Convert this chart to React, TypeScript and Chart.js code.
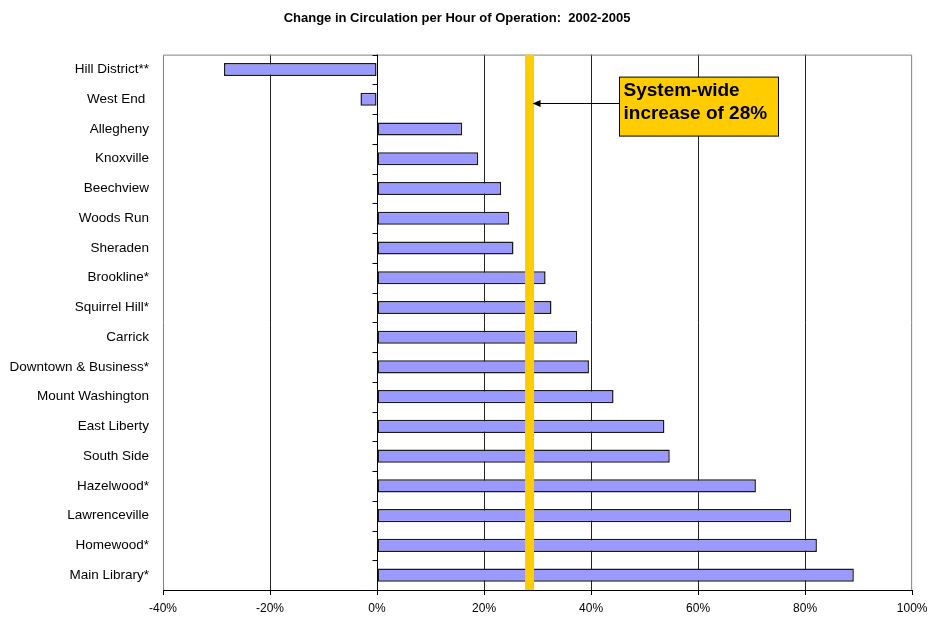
import React, { useEffect, useRef } from "react";
import { Chart, registerables } from "chart.js";

Chart.register(...registerables);

const branches = [
  "Hill District**",
  "West End ",
  "Allegheny",
  "Knoxville",
  "Beechview",
  "Woods Run",
  "Sheraden",
  "Brookline*",
  "Squirrel Hill*",
  "Carrick",
  "Downtown & Business*",
  "Mount Washington",
  "East Liberty",
  "South Side",
  "Hazelwood*",
  "Lawrenceville",
  "Homewood*",
  "Main Library*",
];

const changePct = [
  -28.6, -3.1, 15.9, 18.9, 23.2, 24.7, 25.5, 31.5, 32.6, 37.4, 39.6, 44.2,
  53.7, 54.7, 70.8, 77.4, 82.2, 89.1,
];

const systemWide = 28.5;
const calloutLines = ["System-wide", "increase of 28%"];
const titleText = "Change in Circulation per Hour of Operation:  2002-2005";
const xMin = -40;
const xMax = 100;
const xStep = 20;

const FONT = "Arial, 'Liberation Sans', sans-serif";

const decorPlugin = {
  id: "decor",
  beforeDatasetsDraw(chart: any) {
    const { ctx, chartArea: a, scales } = chart;
    const x = scales.x;
    ctx.save();
    ctx.strokeStyle = "#808080";
    ctx.lineWidth = 1;
    ctx.beginPath();
    ctx.moveTo(a.left + 0.5, a.bottom);
    ctx.lineTo(a.left + 0.5, a.top + 0.5);
    ctx.lineTo(a.right - 0.5, a.top + 0.5);
    ctx.lineTo(a.right - 0.5, a.bottom);
    ctx.stroke();
    const x0 = Math.round(x.getPixelForValue(0)) + 0.5;
    ctx.strokeStyle = "#000";
    ctx.beginPath();
    ctx.moveTo(x0, a.top);
    ctx.lineTo(x0, a.bottom);
    const n = branches.length;
    for (let i = 0; i <= n; i++) {
      const y = Math.round(a.top + ((a.bottom - a.top) * i) / n) + 0.5;
      ctx.moveTo(x0 - 5, y);
      ctx.lineTo(x0, y);
    }
    ctx.stroke();
    ctx.restore();
  },
  afterDatasetsDraw(chart: any) {
    const { ctx, chartArea: a, scales } = chart;
    const x = scales.x;
    ctx.save();
    const xs = x.getPixelForValue(systemWide);
    ctx.fillStyle = "#FFCC00";
    ctx.fillRect(xs - 4.5, a.top, 9, a.bottom - a.top);
    const bx = Math.round(x.getPixelForValue(45.2)) + 0.5;
    const by = a.top + 22.5;
    const bw = 159;
    const bh = 59;
    ctx.fillStyle = "#FFCC00";
    ctx.fillRect(bx, by, bw, bh);
    ctx.strokeStyle = "#000";
    ctx.lineWidth = 1;
    ctx.strokeRect(bx, by, bw, bh);
    ctx.fillStyle = "#000";
    ctx.font = `bold 19px ${FONT}`;
    ctx.textAlign = "left";
    ctx.textBaseline = "middle";
    ctx.fillText(calloutLines[0], bx + 4, by + 14);
    ctx.fillText(calloutLines[1], bx + 4, by + 37);
    const ay = Math.round(by + 25.5) + 0.5;
    const tip = xs + 3;
    ctx.beginPath();
    ctx.moveTo(bx, ay);
    ctx.lineTo(tip + 6, ay);
    ctx.stroke();
    ctx.beginPath();
    ctx.moveTo(tip, ay);
    ctx.lineTo(tip + 8, ay - 3.5);
    ctx.lineTo(tip + 8, ay + 3.5);
    ctx.closePath();
    ctx.fill();
    ctx.restore();
  },
};

export default function App() {
  const ref = useRef<HTMLCanvasElement | null>(null);
  useEffect(() => {
    if (!ref.current) return;
    const chart = new Chart(ref.current, {
      type: "bar",
      data: {
        labels: branches,
        datasets: [
          {
            data: changePct,
            backgroundColor: "#9999FF",
            borderColor: "#1a1a1a",
            borderWidth: 1.5,
            borderSkipped: false,
            categoryPercentage: 1,
            barPercentage: 0.44,
          },
        ],
      },
      plugins: [decorPlugin],
      options: {
        indexAxis: "y",
        animation: false,
        responsive: false,
        maintainAspectRatio: false,
        layout: { padding: { left: 0, right: 16, top: 0, bottom: 0 } },
        plugins: {
          legend: { display: false },
          tooltip: { enabled: false },
          title: {
            display: true,
            text: titleText,
            color: "#000",
            font: { family: FONT, size: 13, weight: "bold" },
            padding: { top: 11, bottom: 28 },
          },
        },
        scales: {
          x: {
            type: "linear",
            min: xMin,
            max: xMax,
            ticks: {
              stepSize: xStep,
              color: "#000",
              font: { family: FONT, size: 12, lineHeight: 1.9 },
              padding: 2.5,
              maxRotation: 0,
              callback: (v: any) => `${v}%`,
            },
            grid: {
              color: (c: any) =>
                c.tick && (c.tick.value === xMin || c.tick.value === xMax || c.tick.value === 0)
                  ? "rgba(0,0,0,0)"
                  : "#222",
              tickColor: "#000",
              tickLength: 5,
              drawTicks: true,
            },
            border: { display: true, color: "#000", width: 1 },
            afterFit: (s: any) => {
              s.height = 30;
            },
          },
          y: {
            type: "category",
            ticks: {
              color: "#000",
              font: { family: FONT, size: 13.5 },
              padding: 14,
              autoSkip: false,
            },
            grid: { display: false, drawTicks: false },
            border: { display: false },
            afterFit: (s: any) => {
              s.width = 163;
            },
          },
        },
      },
    });
    return () => chart.destroy();
  }, []);
  return (
    <div style={{ position: "fixed", left: 0, top: 0, width: 930, height: 620, background: "#fff" }}>
      <canvas ref={ref} width={930} height={620} style={{ width: 930, height: 620 }} />
    </div>
  );
}
